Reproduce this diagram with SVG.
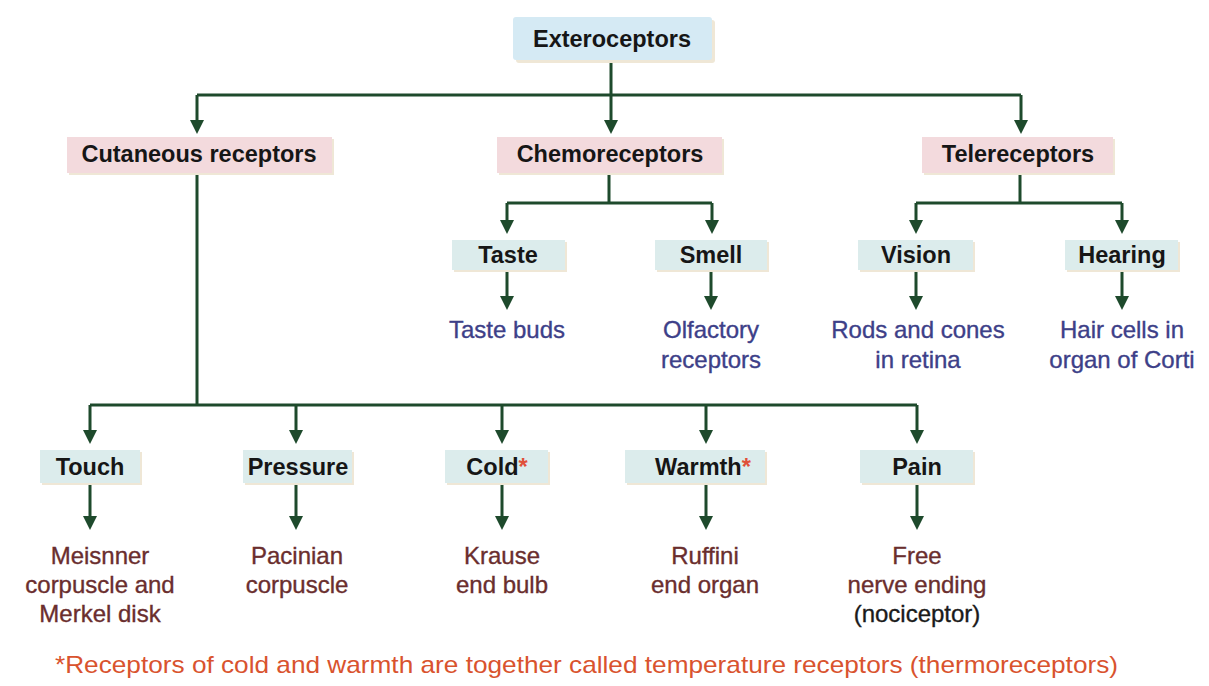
<svg xmlns="http://www.w3.org/2000/svg" width="1209" height="686" viewBox="0 0 1209 686">
<defs>
<style>
.bg{fill:#ffffff}
.box{stroke:none}
.sh{fill:#efe7d6}
.blue{fill:#d5eaf4}
.pink{fill:#f3dadd}
.teal{fill:#dcecec}
.lbl{font-family:"Liberation Sans",Arial,sans-serif;font-weight:bold;font-size:23.5px;fill:#161616;text-anchor:middle}
.leafb{font-family:"Liberation Sans",Arial,sans-serif;font-size:24px;fill:#3d4088;stroke:#3d4088;stroke-width:0.35;text-anchor:middle}
.leafr{font-family:"Liberation Sans",Arial,sans-serif;font-size:24px;fill:#6a2e2e;stroke:#6a2e2e;stroke-width:0.35;text-anchor:middle}
.leafk{font-family:"Liberation Sans",Arial,sans-serif;font-size:24px;fill:#1a1a1a;stroke:#1a1a1a;stroke-width:0.35;text-anchor:middle}
.ast{fill:#e0503a}
.foot{font-family:"Liberation Sans",Arial,sans-serif;font-size:24px;fill:#d9532e}
.ln{fill:none;stroke:#1e4a2c;stroke-width:3}
.hd{fill:#1e4a2c}
</style>
</defs>
<rect class="bg" x="0" y="0" width="1209" height="686"/>

<g id="connectors">
<path class="ln" d="M611 60 V95 M197 95 H1021 M197 95 V122 M611 95 V122 M1021 95 V122"/>
<path class="ln" d="M609 172 V203 M507 203 H712 M507 203 V222 M712 203 V222"/>
<path class="ln" d="M1020 172 V203 M916 203 H1122 M916 203 V222 M1122 203 V222"/>
<path class="ln" d="M507 270 V298 M711 270 V298 M916 270 V298 M1122 270 V298"/>
<path class="ln" d="M197 172 V405 M90 405 H917 M90 405 V432 M296 405 V432 M502 405 V432 M706 405 V432 M917 405 V432"/>
<path class="ln" d="M90 483 V518 M296 483 V518 M502 483 V518 M706 483 V518 M917 483 V518"/>
<g class="hd">
<polygon points="190,120 204,120 197,134"/>
<polygon points="604,120 618,120 611,134"/>
<polygon points="1014,120 1028,120 1021,134"/>
<polygon points="500,220 514,220 507,234"/>
<polygon points="705,220 719,220 712,234"/>
<polygon points="909,220 923,220 916,234"/>
<polygon points="1115,220 1129,220 1122,234"/>
<polygon points="500,296 514,296 507,310"/>
<polygon points="704,296 718,296 711,310"/>
<polygon points="909,296 923,296 916,310"/>
<polygon points="1115,296 1129,296 1122,310"/>
<polygon points="83,430 97,430 90,444"/>
<polygon points="289,430 303,430 296,444"/>
<polygon points="495,430 509,430 502,444"/>
<polygon points="699,430 713,430 706,444"/>
<polygon points="910,430 924,430 917,444"/>
<polygon points="83,516 97,516 90,530"/>
<polygon points="289,516 303,516 296,530"/>
<polygon points="495,516 509,516 502,530"/>
<polygon points="699,516 713,516 706,530"/>
<polygon points="910,516 924,516 917,530"/>
</g>
</g>

<g id="exteroceptors">
<rect class="sh" x="516" y="20" width="199" height="43" rx="3"/>
<rect class="box blue" x="513" y="17" width="199" height="43" rx="3"/>
<text class="lbl" x="612" y="47">Exteroceptors</text>
</g>

<g id="cutaneous">
<rect class="sh" x="69" y="139" width="265" height="36"/>
<rect class="box pink" x="67" y="137" width="265" height="36"/>
<text class="lbl" x="199" y="162">Cutaneous receptors</text>
</g>
<g id="chemoreceptors">
<rect class="sh" x="499" y="139" width="225" height="36"/>
<rect class="box pink" x="497" y="137" width="225" height="36"/>
<text class="lbl" x="610" y="162">Chemoreceptors</text>
</g>
<g id="telereceptors">
<rect class="sh" x="924" y="139" width="191" height="36"/>
<rect class="box pink" x="922" y="137" width="191" height="36"/>
<text class="lbl" x="1018" y="162">Telereceptors</text>
</g>

<g id="taste">
<rect class="sh" x="454" y="242" width="113" height="30"/>
<rect class="box teal" x="452" y="240" width="113" height="30"/>
<text class="lbl" x="508" y="263">Taste</text>
</g>
<g id="smell">
<rect class="sh" x="657" y="242" width="112" height="30"/>
<rect class="box teal" x="655" y="240" width="112" height="30"/>
<text class="lbl" x="711" y="263">Smell</text>
</g>
<g id="vision">
<rect class="sh" x="860" y="242" width="115" height="30"/>
<rect class="box teal" x="858" y="240" width="115" height="30"/>
<text class="lbl" x="916" y="263">Vision</text>
</g>
<g id="hearing">
<rect class="sh" x="1067" y="242" width="113" height="30"/>
<rect class="box teal" x="1065" y="240" width="113" height="30"/>
<text class="lbl" x="1122" y="263">Hearing</text>
</g>

<g id="taste-buds"><text class="leafb" x="507" y="338">Taste buds</text></g>
<g id="olfactory"><text class="leafb" x="711" y="338">Olfactory</text><text class="leafb" x="711" y="368">receptors</text></g>
<g id="rods"><text class="leafb" x="918" y="338">Rods and cones</text><text class="leafb" x="918" y="368">in retina</text></g>
<g id="hair"><text class="leafb" x="1122" y="338">Hair cells in</text><text class="leafb" x="1122" y="368">organ of Corti</text></g>

<g id="touch">
<rect class="sh" x="42" y="452" width="100" height="33"/>
<rect class="box teal" x="40" y="450" width="100" height="33"/>
<text class="lbl" x="90" y="475">Touch</text>
</g>
<g id="pressure">
<rect class="sh" x="245" y="452" width="109" height="33"/>
<rect class="box teal" x="243" y="450" width="109" height="33"/>
<text class="lbl" x="298" y="475">Pressure</text>
</g>
<g id="cold">
<rect class="sh" x="447" y="452" width="103" height="33"/>
<rect class="box teal" x="445" y="450" width="103" height="33"/>
<text class="lbl" x="497" y="475">Cold<tspan class="ast">*</tspan></text>
</g>
<g id="warmth">
<rect class="sh" x="627" y="452" width="140" height="33"/>
<rect class="box teal" x="625" y="450" width="140" height="33"/>
<text class="lbl" x="703" y="475">Warmth<tspan class="ast">*</tspan></text>
</g>
<g id="pain">
<rect class="sh" x="862" y="452" width="113" height="33"/>
<rect class="box teal" x="860" y="450" width="113" height="33"/>
<text class="lbl" x="917" y="475">Pain</text>
</g>

<g id="meisnner"><text class="leafr" x="100" y="564">Meisnner</text><text class="leafr" x="100" y="593">corpuscle and</text><text class="leafr" x="100" y="622">Merkel disk</text></g>
<g id="pacinian"><text class="leafr" x="297" y="564">Pacinian</text><text class="leafr" x="297" y="593">corpuscle</text></g>
<g id="krause"><text class="leafr" x="502" y="564">Krause</text><text class="leafr" x="502" y="593">end bulb</text></g>
<g id="ruffini"><text class="leafr" x="705" y="564">Ruffini</text><text class="leafr" x="705" y="593">end organ</text></g>
<g id="free"><text class="leafr" x="917" y="564">Free</text><text class="leafr" x="917" y="593">nerve ending</text><text class="leafk" x="917" y="622">(nociceptor)</text></g>

<text class="foot" x="55" y="673" textLength="1063" lengthAdjust="spacingAndGlyphs">*Receptors of cold and warmth are together called temperature receptors (thermoreceptors)</text>
</svg>
